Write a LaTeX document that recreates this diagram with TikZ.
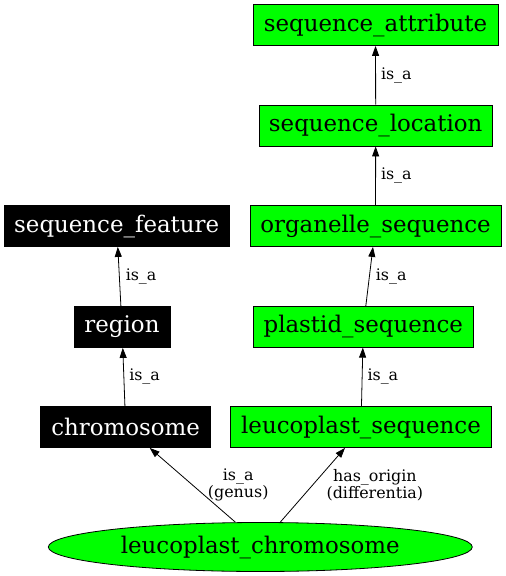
\documentclass[tikz,border=0pt]{standalone}
\usepackage{fontspec}
\setmainfont{DejaVu Serif}
\usetikzlibrary{shapes.geometric, arrows.meta}
\definecolor{termgreen}{RGB}{0,255,0}

\begin{document}
\begin{tikzpicture}[>={Triangle[length=10pt,width=7pt]}, x=1pt, y=-1pt, line width=.8pt,
  every node/.style={font=\fontsize{22.9}{26}\selectfont},
  gbox/.style={rectangle,draw,fill=termgreen,minimum height=41pt,inner sep=0pt},
  bbox/.style={rectangle,draw,fill=black,text=white,minimum height=41pt,inner sep=0pt},
  lbl/.style={font=\fontsize{15.9}{17.5}\selectfont,inner sep=1pt,align=center}]
\useasboundingbox (0,0) rectangle (506,576);

% Right column: green terms
\node[gbox,minimum width=245pt] (attr) at (375.5,25) {sequence\_attribute};
\node[gbox,minimum width=233pt] (loc) at (375.7,125.5) {sequence\_location};
\node[gbox,minimum width=251pt] (org) at (375.5,226) {organelle\_sequence};
\node[gbox,minimum width=220pt] (plas) at (363.3,326.7) {plastid\_sequence};
\node[gbox,minimum width=261pt] (lseq) at (361,427) {leucoplast\_sequence};
% Left column: black terms
\node[bbox,minimum width=225pt] (feat) at (116.7,226) {sequence\_feature};
\node[bbox,minimum width=96pt] (reg) at (122,327) {region};
\node[bbox,minimum width=170pt] (chr) at (125.7,427) {chromosome};
% Bottom ellipse
\node[ellipse,draw,fill=termgreen,minimum width=424pt,minimum height=49pt,inner sep=0pt] (lchr) at (260.3,547) {leucoplast\_chromosome};

% is_a chain on the right
\draw[->] (loc) -- node[lbl,midway,right=4pt] {is\_a} (attr);
\draw[->] (org) -- node[lbl,midway,right=4pt] {is\_a} (loc);
\draw[->] (plas) -- node[lbl,midway,right=5pt] {is\_a} (org);
\draw[->] (lseq) -- node[lbl,midway,right=4pt] {is\_a} (plas);
% is_a chain on the left
\draw[->] (reg) -- node[lbl,midway,right=5pt] {is\_a} (feat);
\draw[->] (chr) -- node[lbl,midway,right=4pt] {is\_a} (reg);
% genus and differentia
\draw[->] ([xshift=-25pt]lchr.north) -- node[lbl,midway,right=14pt] {is\_a\\(genus)} ([xshift=24pt]chr.south);
\draw[->] ([xshift=20pt]lchr.north) -- node[lbl,midway,right=12.5pt] {has\_origin\\(differentia)} ([xshift=-16pt]lseq.south);
\end{tikzpicture}
\end{document}
